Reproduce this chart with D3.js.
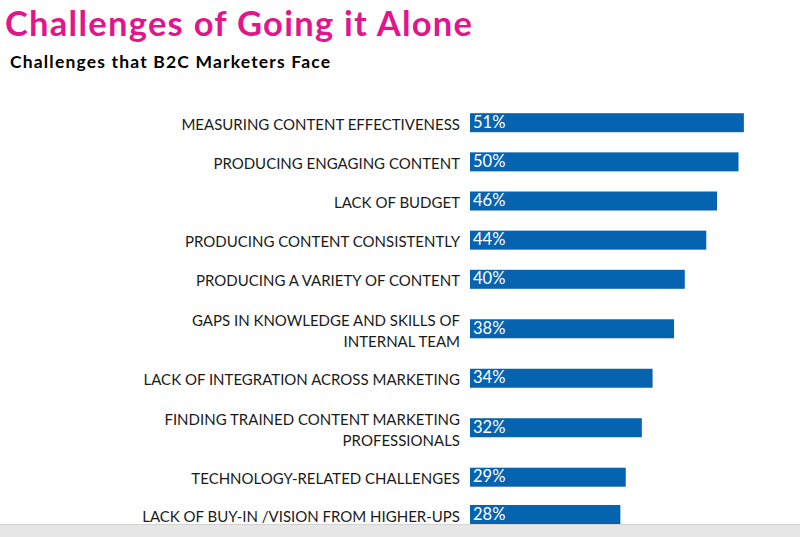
<!DOCTYPE html>
<html><head><meta charset="utf-8">
<script src="https://cdn.jsdelivr.net/npm/d3@7"></script>
<style>
html,body{margin:0;padding:0;background:#fff;}
svg{display:block;}
</style></head>
<body>
<svg id="chart" width="800" height="537"></svg>
<script>
const title = "Challenges of Going it Alone";
const subtitle = "Challenges that B2C Marketers Face";
const categories = [
  ["MEASURING CONTENT EFFECTIVENESS"],
  ["PRODUCING ENGAGING CONTENT"],
  ["LACK OF BUDGET"],
  ["PRODUCING CONTENT CONSISTENTLY"],
  ["PRODUCING A VARIETY OF CONTENT"],
  ["GAPS IN KNOWLEDGE AND SKILLS OF", "INTERNAL TEAM"],
  ["LACK OF INTEGRATION ACROSS MARKETING"],
  ["FINDING TRAINED CONTENT MARKETING", "PROFESSIONALS"],
  ["TECHNOLOGY-RELATED CHALLENGES"],
  ["LACK OF BUY-IN /VISION FROM HIGHER-UPS"]
];
const values = [51, 50, 46, 44, 40, 38, 34, 32, 29, 28];

const svg = d3.select("#chart");
const FONT = "Lato, 'Open Sans', sans-serif";

// bottom gray band
svg.append("rect").attr("x",0).attr("y",524).attr("width",800).attr("height",13).attr("fill","#e6e6e6");
svg.append("line").attr("x1",0).attr("x2",800).attr("y1",524.5).attr("y2",524.5).attr("stroke","#d2d2d2").attr("stroke-width",1);

function spaceToWidth(sel, target, str) {
  const w = sel.node().getComputedTextLength();
  sel.attr("letter-spacing", (target - w) / (str.length - 1));
}

const t = svg.append("text").attr("x",5).attr("y",36)
  .attr("font-family",FONT).attr("font-weight","bold").attr("font-size",34.5).attr("fill","#E2168C")
  .text(title);
spaceToWidth(t, 467, title);

const st = svg.append("text").attr("x",10).attr("y",68)
  .attr("font-family",FONT).attr("font-weight","bold").attr("font-size",17.5).attr("fill","#000")
  .text(subtitle);
spaceToWidth(st, 320, subtitle);

const x = d3.scaleLinear().domain([0, 100]).range([470, 1007]);
const idx = d3.range(values.length);
const y = d3.scaleLinear().domain([0, 4, 8, 9]).range([122.7, 279.3, 477.2, 514.5]);
const barH = 19;

const g = svg.append("g");
g.selectAll("rect.bar").data(idx).join("rect")
  .attr("class","bar")
  .attr("x", x(0))
  .attr("y", i => y(i) - barH/2)
  .attr("width", i => x(values[i]) - x(0))
  .attr("height", barH)
  .attr("fill", "#0563AF");

g.selectAll("text.val").data(idx).join("text")
  .attr("class","val")
  .attr("x", x(0) + 3)
  .attr("y", i => y(i) + 5)
  .attr("font-family",FONT).attr("font-size",16.5).attr("fill","#fff")
  .text(i => values[i] + "%");

const lab = g.selectAll("text.lab").data(idx).join("text")
  .attr("class","lab")
  .attr("text-anchor","end")
  .attr("font-family",FONT).attr("font-size",15).attr("fill","#1a1a1a");
lab.each(function(i){
  const lines = categories[i];
  const n = lines.length;
  const lh = 21;
  d3.select(this).selectAll("tspan").data(lines).join("tspan")
    .attr("x", 460)
    .attr("y", (d, k) => y(i) + 7 + (k - (n-1)/2) * lh + (n>1 ? 1 : 0))
    .text(d => d);
});
</script>
</body></html>
